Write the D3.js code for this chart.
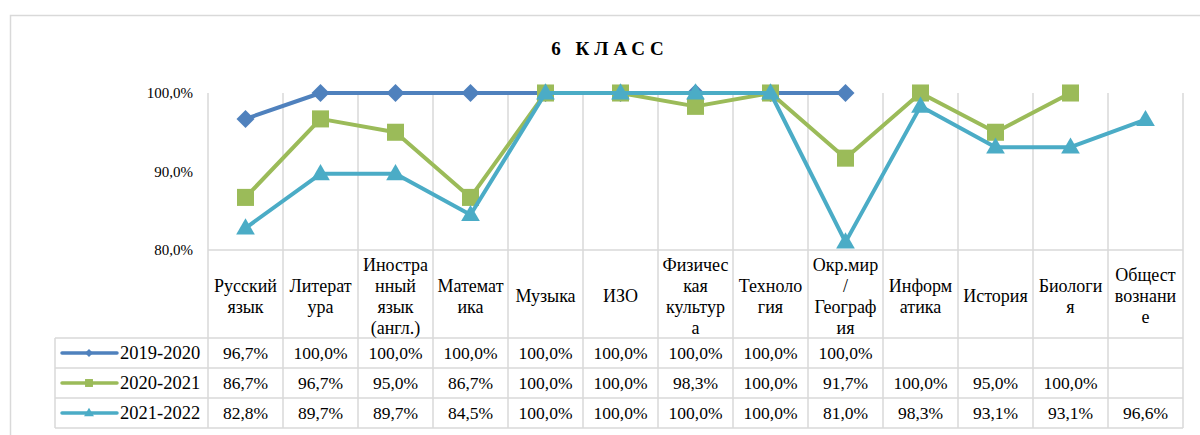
<!DOCTYPE html>
<html>
<head>
<meta charset="utf-8">
<script src="https://cdn.jsdelivr.net/npm/d3@7"></script>
<style>
  body { margin: 0; background: #fff; }
  svg { display: block; }
</style>
</head>
<body>
<svg id="chart" width="1200" height="435"></svg>
<script>
// subjects, with line breaks as they wrap in the table header
var categories = [
  ["Русский", "язык"],
  ["Литерат", "ура"],
  ["Иностра", "нный", "язык", "(англ.)"],
  ["Математ", "ика"],
  ["Музыка"],
  ["ИЗО"],
  ["Физичес", "кая", "культур", "а"],
  ["Техноло", "гия"],
  ["Окр.мир", "/", "Географ", "ия"],
  ["Информ", "атика"],
  ["История"],
  ["Биологи", "я"],
  ["Общест", "вознани", "е"]
]

var years = ["2019-2020", "2020-2021", "2021-2022"]

var y2019 = [96.7, 100, 100, 100, 100, 100, 100, 100, 100, null, null, null, null]
var y2020 = [86.7, 96.7, 95.0, 86.7, 100, 100, 98.3, 100, 91.7, 100, 95.0, 100, null]
var y2021 = [82.8, 89.7, 89.7, 84.5, 100, 100, 100, 100, 81.0, 98.3, 93.1, 93.1, 96.6]

var yTicks = [80, 90, 100]

var colors = ["#4f81bd", "#9bbb59", "#4bacc6"]
var shapes = [d3.symbolDiamond2, d3.symbolSquare2, d3.symbolTriangle2]
var markSize = [206, 370, 250]
var keySize = [40, 80, 70]

var series = [y2019, y2020, y2021]
var grid = "#d9d9d9"
var serif = "'Liberation Serif'"
var fmt = v => v.toFixed(1).replace(".", ",") + "%"

var svg = d3.select("#chart")

// outer chart border
svg.append("rect")
  .attr("x", 10.5).attr("y", 15.5)
  .attr("width", 1220).attr("height", 440)
  .attr("fill", "none").attr("stroke", grid).attr("stroke-width", 1.5)

svg.append("text")
  .attr("x", 610).attr("y", 55)
  .attr("text-anchor", "middle")
  .style("font-family", serif)
  .style("font-size", "19px").style("font-weight", "bold")
  .style("letter-spacing", "5px")
  .text("6 КЛАСС")

var x = d3.scaleBand()
  .domain(d3.range(categories.length))
  .range([208, 1183])

var y = d3.scaleLinear().domain([80, 100]).range([250, 93])

// table rows
var headTop = 250, headBottom = 338, rowH = 30
var legendLeft = 55

// vertical grid through plot and header
svg.append("g").selectAll("line")
  .data(d3.range(categories.length + 1))
  .enter().append("line")
  .attr("x1", i => i < categories.length ? x(i) : x.range()[1])
  .attr("x2", i => i < categories.length ? x(i) : x.range()[1])
  .attr("y1", y(100))
  .attr("y2", headBottom + rowH * 3)
  .attr("stroke", grid).attr("stroke-width", 1.5)

// horizontal table lines
var hl = svg.append("g")
hl.append("line")
  .attr("x1", x.range()[0]).attr("x2", x.range()[1])
  .attr("y1", headTop).attr("y2", headTop)
  .attr("stroke", grid).attr("stroke-width", 1.5)
hl.selectAll("line.row")
  .data(d3.range(4))
  .enter().append("line").attr("class", "row")
  .attr("x1", legendLeft).attr("x2", x.range()[1])
  .attr("y1", i => headBottom + i * rowH).attr("y2", i => headBottom + i * rowH)
  .attr("stroke", grid).attr("stroke-width", 1.5)
hl.append("line")
  .attr("x1", legendLeft).attr("x2", legendLeft)
  .attr("y1", headBottom).attr("y2", headBottom + rowH * 3)
  .attr("stroke", grid).attr("stroke-width", 1.5)

// y axis labels
var yAxis = d3.axisLeft(y).tickValues(yTicks).tickSize(0).tickPadding(15).tickFormat(fmt)
svg.append("g")
  .attr("transform", "translate(208,0)")
  .call(yAxis)
  .call(g => g.select(".domain").remove())
  .selectAll("text")
  .style("font-family", serif)
  .style("font-size", "15px")
  .attr("fill", "#000")

// category header text
var lineH = 21
svg.append("g").selectAll("text")
  .data(categories)
  .enter().append("text")
  .attr("text-anchor", "middle")
  .style("font-family", serif)
  .style("font-size", "18px")
  .each(function(lines, i) {
    var cy = (headTop + headBottom) / 2 + 2
    var top = cy - (lines.length - 1) * lineH / 2
    d3.select(this).selectAll("tspan")
      .data(lines)
      .enter().append("tspan")
      .attr("x", x(i) + x.bandwidth() / 2)
      .attr("y", (d, j) => top + j * lineH)
      .attr("dy", "0.35em")
      .text(d => d)
  })

// lines and markers
var line = d3.line()
  .defined(d => d != null)
  .x((d, i) => x(i) + x.bandwidth() / 2)
  .y(d => y(d))

series.forEach((vals, s) => {
  var g = svg.append("g")
  g.append("path")
    .datum(vals)
    .attr("d", line)
    .attr("fill", "none")
    .attr("stroke", colors[s])
    .attr("stroke-width", 4)
    .attr("stroke-linejoin", "round")
  g.selectAll("path.mk")
    .data(vals.map((v, i) => ({ v: v, i: i })).filter(d => d.v != null))
    .enter().append("path").attr("class", "mk")
    .attr("d", d3.symbol().type(shapes[s]).size(markSize[s]))
    .attr("transform", d => "translate(" + (x(d.i) + x.bandwidth() / 2) + "," + (y(d.v) + (s == 2 ? 1 : 0)) + ")")
    .attr("fill", colors[s])
})

// data rows with legend keys
series.forEach((vals, s) => {
  var cy = headBottom + rowH * s + rowH / 2
  var key = svg.append("g")
  key.append("line")
    .attr("x1", 62).attr("x2", 117)
    .attr("y1", cy).attr("y2", cy)
    .attr("stroke", colors[s]).attr("stroke-width", 3.5)
    .attr("stroke-linecap", "round")
  key.append("path")
    .attr("d", d3.symbol().type(shapes[s]).size(keySize[s]))
    .attr("transform", "translate(89," + (cy + (s == 2 ? 0.5 : 0)) + ")")
    .attr("fill", colors[s])
  key.append("text")
    .attr("x", 120).attr("y", cy).attr("dy", "0.35em")
    .style("font-family", serif)
    .style("font-size", "18.5px")
    .text(years[s])

  svg.append("g").selectAll("text")
    .data(vals.map((v, i) => ({ v: v, i: i })).filter(d => d.v != null))
    .enter().append("text")
    .attr("x", d => x(d.i) + x.bandwidth() / 2)
    .attr("y", cy).attr("dy", "0.35em")
    .attr("text-anchor", "middle")
    .style("font-family", serif)
    .style("font-size", "17.5px")
    .text(d => fmt(d.v))
})
</script>
</body>
</html>
